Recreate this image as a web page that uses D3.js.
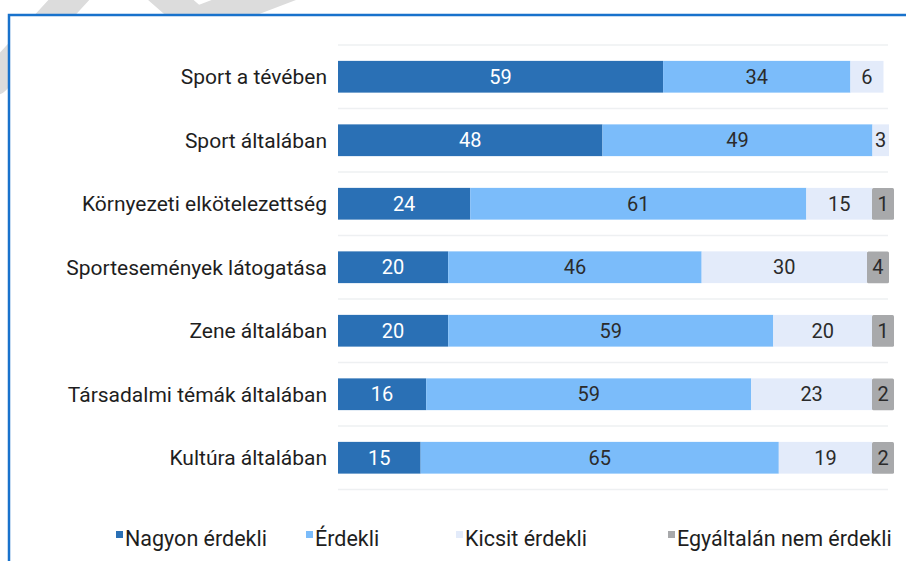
<!DOCTYPE html>
<html>
<head>
<meta charset="utf-8">
<script src="https://cdn.jsdelivr.net/npm/d3@7"></script>
<style>
  body { margin: 0; background: #fff; }
  svg { display: block; font-family: Roboto, "Noto Sans", sans-serif; }
</style>
</head>
<body>
<script>
/* Data */
const categories = [
  "Sport a tévében",
  "Sport általában",
  "Környezeti elkötelezettség",
  "Sportesemények látogatása",
  "Zene általában",
  "Társadalmi témák általában",
  "Kultúra általában"
];
const seriesNames = ["Nagyon érdekli", "Érdekli", "Kicsit érdekli", "Egyáltalán nem érdekli"];
const nagyon = [59, 48, 24, 20, 20, 16, 15];
const erdekli = [34, 49, 61, 46, 59, 59, 65];
const kicsit = [6, 3, 15, 30, 20, 23, 19];
const egyaltalan = [0, 0, 1, 4, 1, 2, 2];

/* Constants */
const W = 906, H = 561;
const COLORS = ["#2a70b5", "#7bbcfa", "#e3ebfa", "#a8a9ab"];
const TEXT_COLORS = ["#ffffff", "#2b2b2b", "#2b2b2b", "#2b2b2b"];
const MIN_TAB = 22;   // smallest width of the last (grey) segment
const TAB_END = 894;  // grey segments never run past this

const svg = d3.select("body").append("svg")
  .attr("width", W)
  .attr("height", H);

/* Watermark behind the frame */
const wm = svg.append("g")
  .attr("stroke", "#dcdcdc")
  .attr("stroke-width", 30)
  .attr("stroke-linecap", "round")
  .attr("stroke-linejoin", "round")
  .attr("fill", "none");
wm.append("path").attr("d", "M78,-10 L-5,80");
wm.append("path").attr("d", "M148,-20 L196,22 L372,-45");

/* Frame */
svg.append("rect")
  .attr("x", 9).attr("y", 15)
  .attr("width", W).attr("height", H)
  .attr("fill", "#fff");
svg.append("path")
  .attr("d", `M9,${H} L9,15 L${W},15`)
  .attr("fill", "none")
  .attr("stroke", "#1872cc")
  .attr("stroke-width", 2.5);

/* Scales */
const x = d3.scaleLinear().domain([0, 100]).range([338, 889]);
const y = d3.scaleBand().domain(categories).range([45, 489.5])
  .paddingInner(0.5).paddingOuter(0.25);

/* Gridlines at band boundaries */
const step = y.step();
svg.append("g").selectAll("line")
  .data(d3.range(categories.length + 1))
  .join("line")
  .attr("x1", x(0)).attr("x2", 888)
  .attr("y1", i => 45 + i * step).attr("y2", i => 45 + i * step)
  .attr("stroke", "#eef0f2")
  .attr("stroke-width", 1.5);

/* Stack */
const rows = categories.map((c, i) => ({
  cat: c, s0: nagyon[i], s1: erdekli[i], s2: kicsit[i], s3: egyaltalan[i]
}));
const keys = ["s0", "s1", "s2", "s3"];
const stack = d3.stack().keys(keys)(rows);

/* Segment geometry: grey tab gets a minimum width, the light one gives way */
const segs = [];
rows.forEach((r, ri) => {
  const parts = stack.map(l => l[ri]);
  let tabStart = null;
  if (r.s3 > 0) {
    const w = Math.max(x(parts[3][1]) - x(parts[3][0]), MIN_TAB);
    const end = Math.min(x(parts[3][0]) + w, TAB_END);
    tabStart = end - w;
    segs.push({ li: 3, cat: r.cat, v: r.s3, x0: tabStart, x1: end });
  }
  [0, 1, 2].forEach(li => {
    const v = r[keys[li]];
    if (v <= 0) return;
    let x0 = x(parts[li][0]), x1 = x(parts[li][1]);
    if (li === 2 && tabStart !== null) x1 = Math.min(x1, tabStart);
    segs.push({ li, cat: r.cat, v, x0, x1 });
  });
});

const bars = svg.append("g");
bars.selectAll("rect")
  .data(segs)
  .join("rect")
  .attr("x", d => d.x0)
  .attr("y", d => y(d.cat))
  .attr("width", d => d.x1 - d.x0)
  .attr("height", y.bandwidth())
  .attr("rx", d => d.li === 3 ? 1.5 : 0)
  .attr("fill", d => COLORS[d.li]);
bars.selectAll("text")
  .data(segs)
  .join("text")
  .attr("x", d => (d.x0 + d.x1) / 2)
  .attr("y", d => y(d.cat) + y.bandwidth() / 2)
  .attr("dy", "0.36em")
  .attr("text-anchor", "middle")
  .attr("font-size", 20)
  .attr("fill", d => TEXT_COLORS[d.li])
  .text(d => d.v);

/* Category labels */
svg.append("g").selectAll("text")
  .data(categories)
  .join("text")
  .attr("x", 327)
  .attr("y", d => y(d) + y.bandwidth() / 2)
  .attr("dy", "0.36em")
  .attr("text-anchor", "end")
  .attr("font-size", 21)
  .attr("fill", "#1e1e1e")
  .text(d => d);

/* Legend */
const legendX = [116, 306, 456, 668];
const legend = svg.append("g").selectAll("g")
  .data(seriesNames)
  .join("g")
  .attr("transform", (d, i) => `translate(${legendX[i]},0)`);
legend.append("rect")
  .attr("x", 0).attr("y", 531)
  .attr("width", 7).attr("height", 7)
  .attr("fill", (d, i) => COLORS[i]);
legend.append("text")
  .attr("x", 9).attr("y", 546)
  .attr("font-size", 21.5)
  .attr("fill", "#1e1e1e")
  .text(d => d);
</script>
</body>
</html>
